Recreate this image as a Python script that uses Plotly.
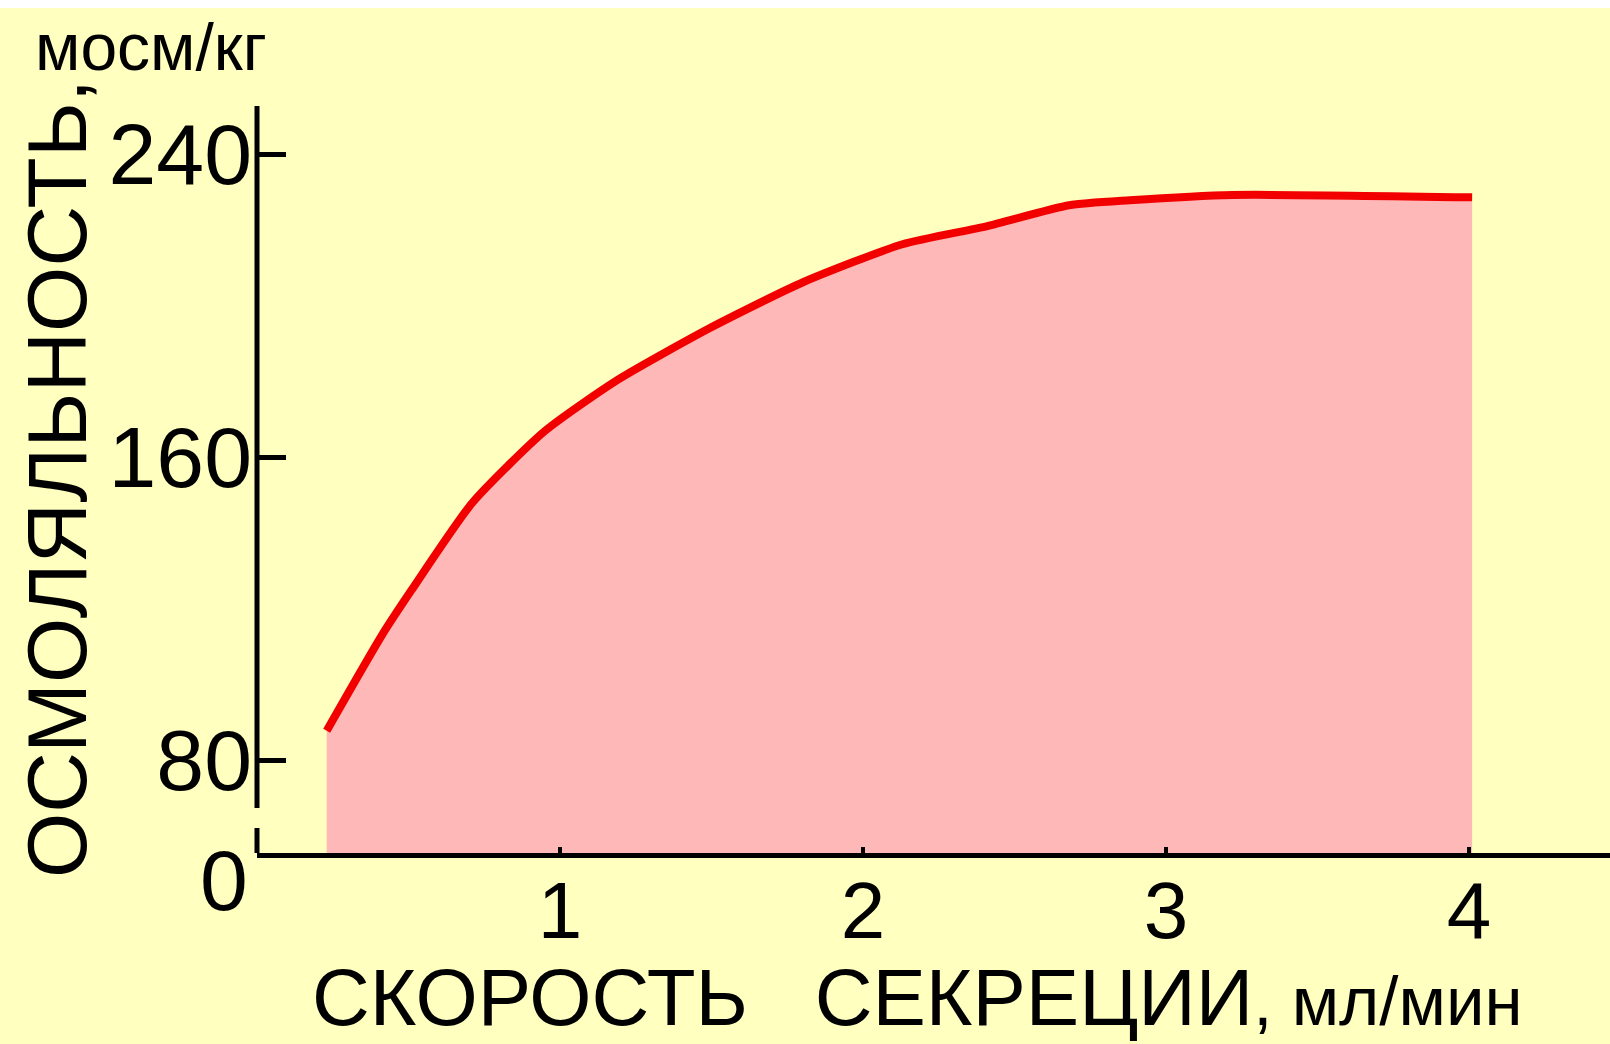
import plotly.graph_objects as go

# Data
rate = [0.23, 0.41, 0.51, 0.71, 0.95, 1.19, 1.49, 1.80, 2.13, 2.41, 2.68, 2.88, 3.22, 4.01]
osmol = [87.8, 112.7, 124.9, 147.9, 166.9, 180.4, 193.9, 206.1, 216.2, 221.0, 226.5, 227.8, 229.2, 228.6]
x_ticks = [1, 2, 3, 4]
x_ticktext = ["1", "2", "3", "4"]
y_ticks = [80, 160, 240]
y_ticktext = ["80", "160", "240"]

BG = "#FFFFC0"
FONT = "Liberation Sans, Arial, sans-serif"

fig = go.Figure()
fig.add_trace(go.Scatter(
    x=rate, y=osmol, mode="lines",
    line=dict(color="#F20000", width=8, shape="spline", smoothing=0.6),
    fill="tozeroy", fillcolor="#FFB8B8",
    showlegend=False, hoverinfo="skip",
))

ml, mr, mt, mb = 257, 0, 106, 191
W, H = 1610, 1044
ph = H - mt - mb
pw = W - ml - mr

def py(pix):
    return (H - mb - pix) / ph

def px(pix):
    return (pix - ml) / pw

fig.update_layout(
    width=W, height=H,
    margin=dict(l=ml, r=mr, t=mt, b=mb, pad=0),
    paper_bgcolor=BG, plot_bgcolor=BG,
    font=dict(family=FONT, color="black"),
    xaxis=dict(
        range=[0, 4.465], tickvals=x_ticks, ticktext=x_ticktext,
        ticks="inside", ticklen=6, tickwidth=4, tickcolor="black",
        showline=True, linewidth=5, linecolor="black",
        showgrid=False, zeroline=False,
        tickfont=dict(size=80, family=FONT, color="black"),
        ticklabelstandoff=-16,
    ),
    yaxis=dict(
        range=[55.5, 252.7], tickvals=y_ticks, ticktext=y_ticktext,
        ticks="inside", ticklen=29, tickwidth=5, tickcolor="black",
        showline=False, showgrid=False, zeroline=False,
        tickfont=dict(size=86, family=FONT, color="black"),
        ticklabelstandoff=4,
    ),
    shapes=[
        dict(type="rect", xref="paper", yref="paper", x0=-0.2, x1=1.01,
             y0=py(8), y1=py(-2), fillcolor="white", line=dict(width=0), layer="below"),
        dict(type="line", xref="paper", yref="paper", x0=0, x1=0,
             y0=py(808), y1=1, line=dict(color="black", width=5)),
        dict(type="line", xref="paper", yref="paper", x0=0, x1=0,
             y0=0, y1=py(828), line=dict(color="black", width=5)),
    ],
    annotations=[
        dict(text="ОСМОЛЯЛЬНОСТЬ,", xref="paper", yref="paper", x=px(57), y=py(479),
             xanchor="center", yanchor="middle", textangle=-90, showarrow=False,
             font=dict(size=84, family=FONT, color="black")),
        dict(text="СКОРОСТЬ&nbsp;&nbsp; СЕКРЕЦИИ<span style='font-size:69px'>, мл/мин</span>",
             xref="paper", yref="paper", x=px(917), y=py(997),
             xanchor="center", yanchor="middle", showarrow=False,
             font=dict(size=80, family=FONT, color="black")),
        dict(text="0", xref="paper", yref="paper", x=0, y=0, xanchor="right", yanchor="middle",
             xshift=-7, yshift=-27, showarrow=False, font=dict(size=86, family=FONT, color="black")),
        dict(text="мосм/кг", xref="paper", yref="paper", x=px(33), y=py(47),
             xanchor="left", yanchor="middle", showarrow=False,
             font=dict(size=66, family=FONT, color="black")),
    ],
)

fig.write_html("out.html", config={"displayModeBar": False},
               post_script="document.body.style.margin='0';")
